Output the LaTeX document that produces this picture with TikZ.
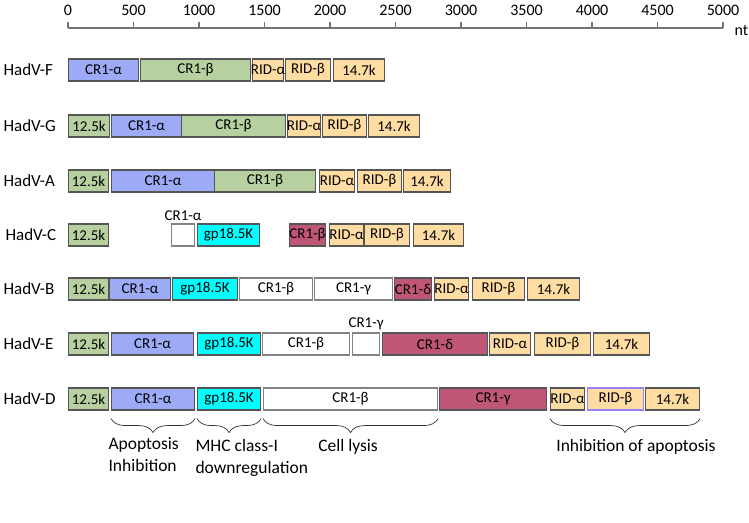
\documentclass[tikz,border=0pt]{standalone}
\usepackage{fontspec}
\setmainfont{Carlito}
\usepackage{tikz}
\usetikzlibrary{positioning, decorations.pathreplacing}

\definecolor{crablue}{RGB}{157,170,246}
\definecolor{crbgreen}{RGB}{183,208,160}
\definecolor{ridpeach}{RGB}{255,220,162}
\definecolor{gpcyan}{RGB}{0,255,255}
\definecolor{crpink}{RGB}{192,86,118}
\definecolor{boxline}{RGB}{85,85,85}
\definecolor{greyline}{RGB}{130,130,130}
\definecolor{violetline}{RGB}{150,130,240}

\tikzset{
  gene/.style={draw=boxline, line width=1.1pt, minimum height=22pt, inner sep=0pt,
    anchor=west, font=\fontsize{15}{17}\selectfont},
  cra/.style={gene, fill=crablue},
  crb/.style={gene, fill=crbgreen},
  rid/.style={gene, fill=ridpeach},
  gp/.style={gene, fill=gpcyan},
  crp/.style={gene, fill=crpink},
  crw/.style={gene, fill=white, draw=greyline},
  rowlab/.style={anchor=west, font=\fontsize{17}{19}\selectfont},
  note/.style={font=\fontsize{17.5}{22}\selectfont, align=left},
  brace/.style={decorate, decoration={brace, mirror, amplitude=14pt}, line width=0.7pt, black!80}
}

\begin{document}
\begin{tikzpicture}[x=1pt, y=-1pt]
	\useasboundingbox (0,0) rectangle (749,522);
	% scale
	\draw[line width=1.4pt, black!55] (68,28) -- (723,28);
	\foreach \i in {0,...,10} {
		\draw[line width=1.2pt, black!55] (68+65.5*\i,28) -- (68+65.5*\i,22);
		\pgfmathtruncatemacro{\nt}{500*\i}
		\node[font=\fontsize{16}{18}\selectfont] (t\i) at (68+65.5*\i,10) {\nt};
	}
	\node[anchor=west, font=\fontsize{16}{18}\selectfont] (nt) at (731,30) {nt};
	
	% HadV-F
	\node[rowlab] (lf) at (0,70) {HadV-F};
	\node[cra, minimum width=70pt] (f1) at (68,70) {CR1-α};
	\node[crb, minimum width=110pt] (f2) at (140,70) {CR1-β};
	\node[rid, minimum width=31pt] (f3) at (252,70) {\makebox[0pt]{RID-α}};
	\node[rid, minimum width=45pt] (f4) at (285,70) {RID-β};
	\node[rid, minimum width=51pt] (f5) at (333,70) {14.7k};
	
	% HadV-G
	\node[rowlab] (lg) at (0,126) {HadV-G};
	\node[crb, minimum width=41pt] (g1) at (68,126) {12.5k};
	\node[cra, minimum width=70pt] (g2) at (111,126) {CR1-α};
	\node[crb, minimum width=104pt] (g3) at (181,126) {CR1-β};
	\node[rid, minimum width=33pt] (g4) at (287,126) {\makebox[0pt]{RID-α}};
	\node[rid, minimum width=44pt] (g5) at (322,126) {RID-β};
	\node[rid, minimum width=51pt] (g6) at (368,126) {14.7k};
	
	% HadV-A
	\node[rowlab] (la) at (0,181) {HadV-A};
	\node[crb, minimum width=40pt] (a1) at (68,181) {12.5k};
	\node[cra, minimum width=103pt] (a2) at (111,181) {CR1-α};
	\node[crb, minimum width=101pt] (a3) at (214,181) {CR1-β};
	\node[rid, minimum width=35pt] (a4) at (319,181) {\makebox[0pt]{RID-α}};
	\node[rid, minimum width=44pt] (a5) at (357,181) {RID-β};
	\node[rid, minimum width=47pt] (a6) at (403,181) {14.7k};
	
	% HadV-C
	\node[rowlab] (lc) at (2,235) {HadV-C};
	\node[crb, minimum width=40pt] (c1) at (68,235) {12.5k};
	\node[crw, minimum width=23pt] (c2) at (171,235) {};
	\node[gp, minimum width=62pt] (c3) at (197,235) {gp18.5K};
	\node[crp, minimum width=36pt] (c4) at (289,235) {\makebox[0pt]{CR1-β}};
	\node[rid, minimum width=34pt] (c5) at (329,235) {\makebox[0pt]{RID-α}};
	\node[rid, minimum width=45pt] (c6) at (364,235) {RID-β};
	\node[rid, minimum width=50pt] (c7) at (413,235) {14.7k};
	\node[font=\fontsize{15}{17}\selectfont, above=-1pt of c2] (c2l) {CR1-α};
	
	% HadV-B
	\node[rowlab] (lb) at (0,289) {HadV-B};
	\node[crb, minimum width=40pt] (b1) at (68,289) {12.5k};
	\node[cra, minimum width=61pt] (b2) at (109,289) {CR1-α};
	\node[gp, minimum width=65pt] (b3) at (172,289) {gp18.5K};
	\node[crw, minimum width=73pt] (b4) at (239,289) {CR1-β};
	\node[crw, minimum width=78pt] (b5) at (314,289) {CR1-γ};
	\node[crp, minimum width=37pt] (b6) at (394,289) {\makebox[0pt]{CR1-δ}};
	\node[rid, minimum width=34pt] (b7) at (434,289) {\makebox[0pt]{RID-α}};
	\node[rid, minimum width=52pt] (b8) at (472,289) {RID-β};
	\node[rid, minimum width=52pt] (b9) at (527,289) {14.7k};
	
	% HadV-E
	\node[rowlab] (le) at (0,344) {HadV-E};
	\node[crb, minimum width=40pt] (e1) at (68,344) {12.5k};
	\node[cra, minimum width=82pt] (e2) at (111,344) {CR1-α};
	\node[gp, minimum width=63pt] (e3) at (197,344) {gp18.5K};
	\node[crw, minimum width=87pt] (e4) at (262,344) {CR1-β};
	\node[crw, minimum width=27pt] (e5) at (352,344) {};
	\node[crp, minimum width=105pt] (e6) at (382,344) {CR1-δ};
	\node[rid, minimum width=41pt] (e7) at (489,344) {RID-α};
	\node[rid, minimum width=56pt] (e8) at (534,344) {RID-β};
	\node[rid, minimum width=56pt] (e9) at (593,344) {14.7k};
	\node[font=\fontsize{15}{17}\selectfont, above=-1pt of e5] (e5l) {CR1-γ};
	
	% HadV-D
	\node[rowlab] (ld) at (0,399) {HadV-D};
	\node[crb, minimum width=40pt] (d1) at (68,399) {12.5k};
	\node[cra, minimum width=83pt] (d2) at (111,399) {CR1-α};
	\node[gp, minimum width=63pt] (d3) at (197,399) {gp18.5K};
	\node[crw, minimum width=174pt] (d4) at (263,399) {CR1-β};
	\node[crp, minimum width=107pt] (d5) at (439,399) {CR1-γ};
	\node[rid, minimum width=34pt] (d6) at (550,399) {\makebox[0pt]{RID-α}};
	\node[rid, draw=violetline, minimum width=56pt] (d7) at (587,399) {RID-β};
	\node[rid, minimum width=54pt] (d8) at (645,399) {14.7k};
	
	% functions
	\draw[brace] ([yshift=-8pt]d2.south west) -- ([yshift=-8pt]d2.south east);
	\draw[brace] ([yshift=-8pt]d3.south west) -- ([yshift=-8pt]d3.south east);
	\draw[brace] ([yshift=-8pt]d4.south west) -- ([yshift=-8pt]d4.south east);
	\draw[brace] ([yshift=-8pt]d6.south west) -- ([yshift=-8pt]d8.south east);
	\node[note, anchor=north west] (fn1) at (105,434) {Apoptosis\\Inhibition};
	\node[note, anchor=north west] (fn2) at (192,436) {MHC class-I\\downregulation};
	\node[note, anchor=north] (fn3) at (348,436) {Cell lysis};
	\node[note, anchor=north] (fn4) at (636,436) {Inhibition of apoptosis};
\end{tikzpicture}
\end{document}
